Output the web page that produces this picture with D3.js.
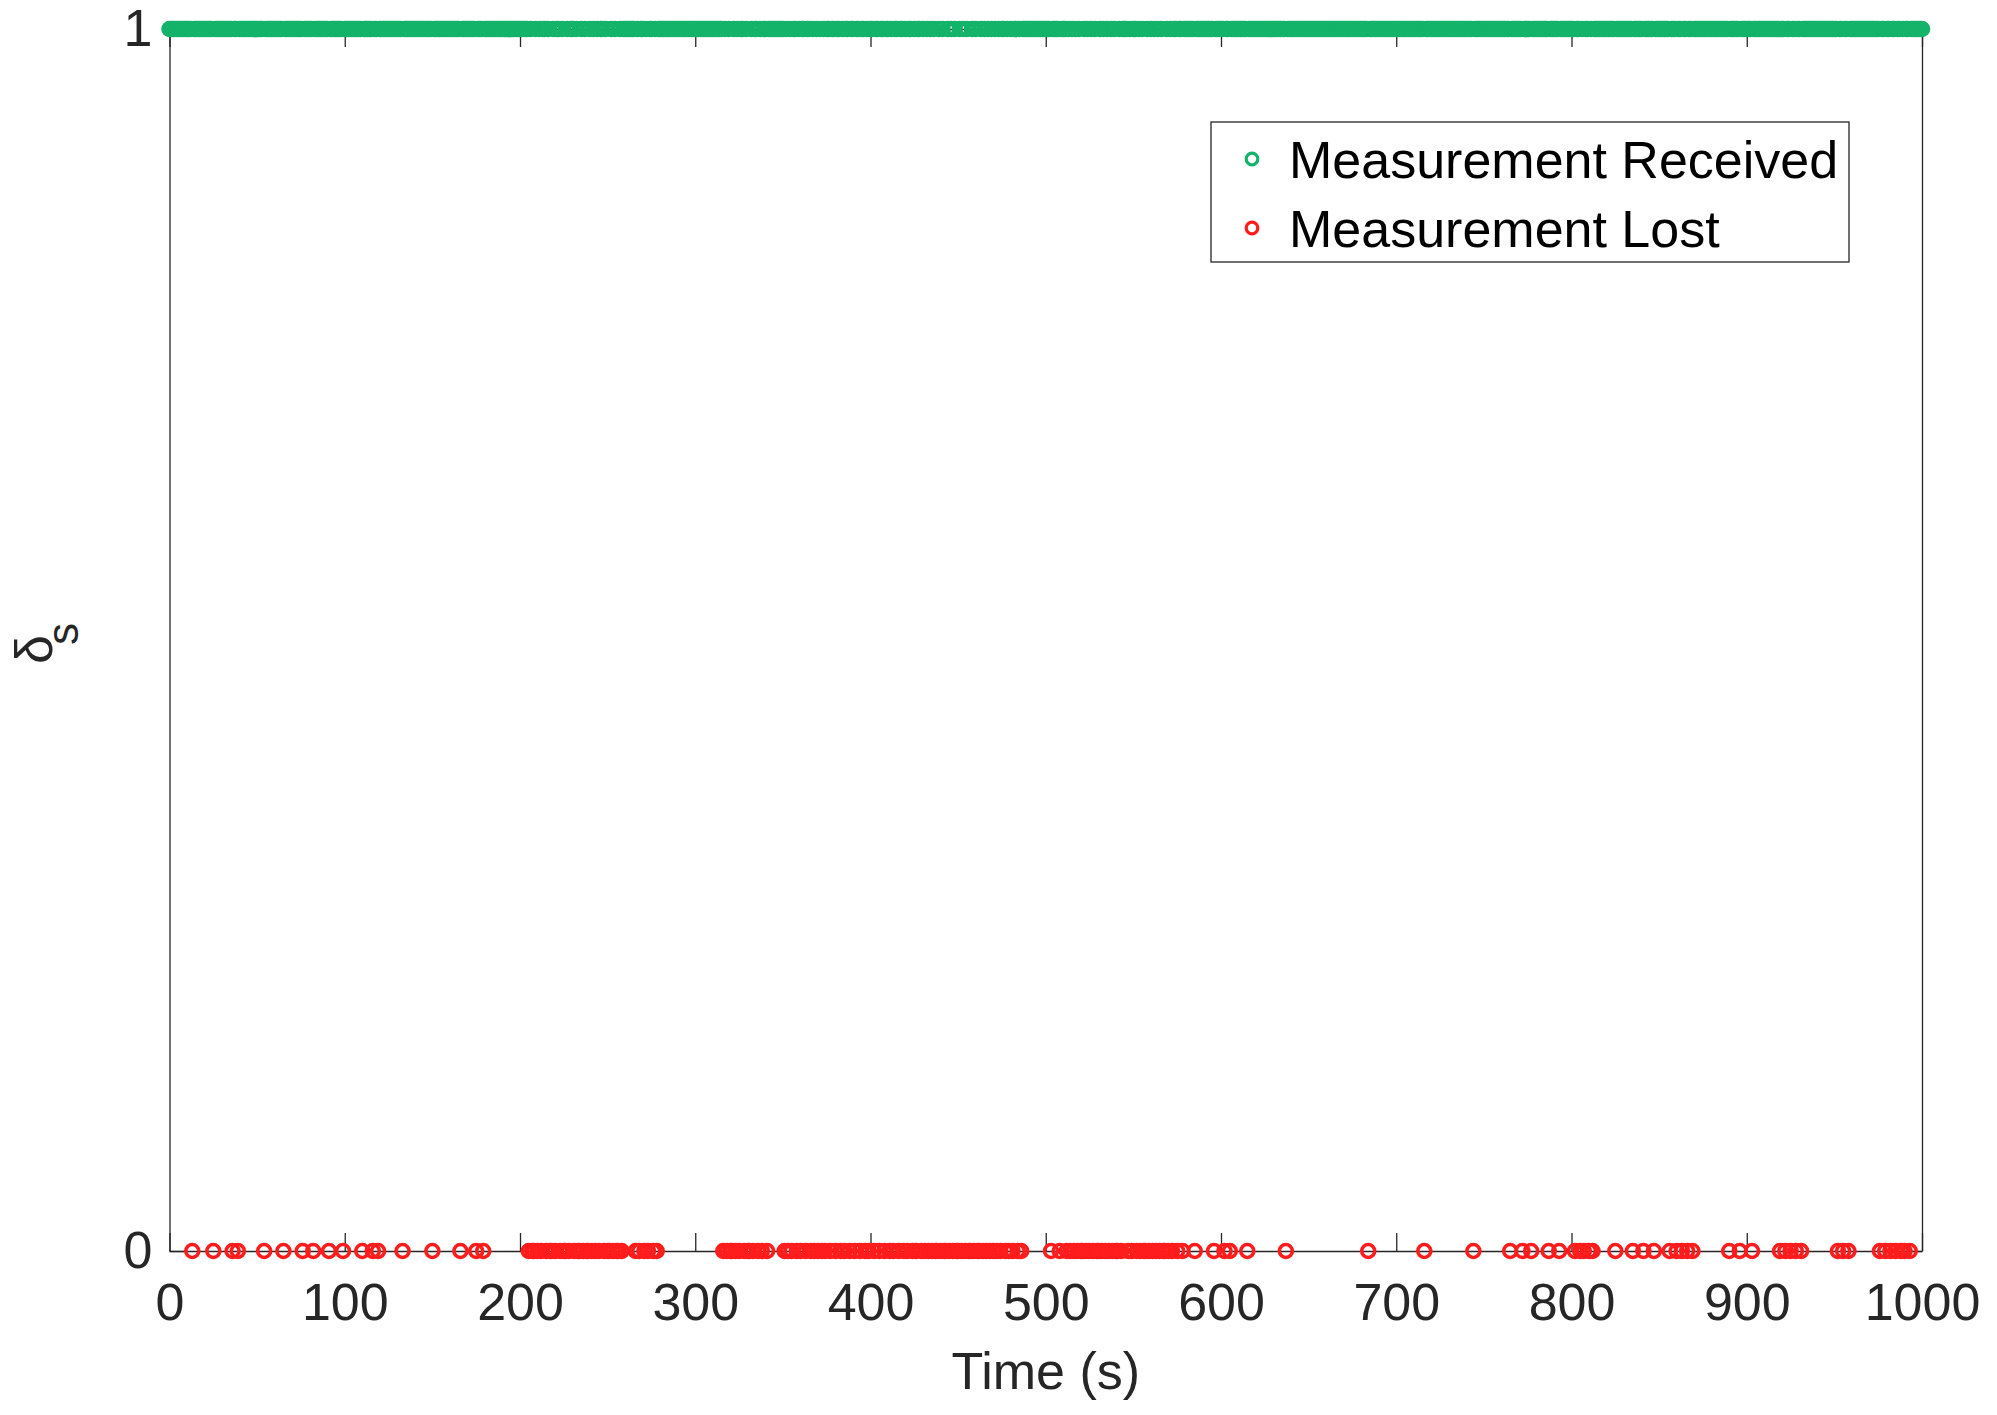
<!DOCTYPE html>
<html>
<head>
<meta charset="utf-8">
<script src="https://cdn.jsdelivr.net/npm/d3@7/dist/d3.min.js"></script>
<style>
  body { margin: 0; background: #fff; }
  text { font-family: "Liberation Sans", Arial, sans-serif; }
</style>
</head>
<body>
<div id="chart"></div>
<script>

// time axis: one sample per second, 0..1000 s
let timeDomain = [0, 1000];
let xTicks = [0, 100, 200, 300, 400, 500, 600, 700, 800, 900, 1000];
let yTicks = [0, 1];

let lostTimes = [13, 25, 36, 39, 54, 65, 76, 82, 91, 99, 110, 116, 119, 133, 150, 166, 175, 179,
  205, 207, 208, 210, 212, 215, 217, 218, 220, 223, 225, 226, 228, 231, 233, 234, 236, 238, 239, 241,
  243, 245, 248, 250, 251, 253, 255, 256, 258,
  266, 268, 271, 273, 276, 278,
  316, 318, 320, 321, 323, 325, 328, 330, 331, 333, 336, 338, 341,
  351, 353, 355, 358, 360, 363, 366, 368, 370, 372, 374, 377, 380, 383, 385, 388, 391, 394, 397, 399,
  402, 405, 408, 411, 413, 416, 419, 421, 424, 426, 429, 431, 433, 435, 437, 438, 440, 442, 443, 445,
  447, 449, 450, 452, 454, 456, 457, 459, 461, 462, 464, 466, 468, 470, 472, 474,
  477, 479, 481, 484, 486,
  503, 508, 512, 514, 516, 518, 520, 521, 523, 525, 527, 529, 530, 532, 534, 536, 538, 540, 541, 543,
  547, 549, 552, 554, 556, 557, 559, 561, 563, 565, 567, 568, 570, 572, 575, 578, 585, 596, 602, 605, 615,
  637, 684, 716, 744,
  765, 772, 777, 787, 793, 802, 805, 807, 810, 812, 825, 835, 841, 847, 856, 860, 863, 866, 869,
  890, 896, 903, 919, 922, 925, 928, 931, 952, 955, 958, 976, 979, 982, 985, 988, 990, 993];

let legendLabels = ['Measurement Received', 'Measurement Lost'];

let colors = {
  received: '#14b36a',
  lost: '#ff1c1c',
  axis: '#262626'
};

// every other sample was received
let lostSet = new Set(lostTimes);
let allTimes = d3.range(timeDomain[0], timeDomain[1] + 1);
let receivedTimes = allTimes.filter(t => !lostSet.has(t));

let width = 1997,
  height = 1415;

let plot = { left: 169.5, right: 1922, top: 29, bottom: 1251 };

let svg = d3.select('#chart').append('svg')
  .attr('width', width)
  .attr('height', height);

let x = d3.scaleLinear().domain(timeDomain).range([plot.left, plot.right]);
let y = d3.scaleLinear().domain([0, 1]).range([plot.bottom, plot.top]);

///////////////////////////////////////////////////////////////////////////
///////////////////////////////// Axes box ////////////////////////////////
///////////////////////////////////////////////////////////////////////////

function styleAxis(g) {
  g.selectAll('path, line').attr('stroke', colors.axis).attr('stroke-width', 1.3);
  g.selectAll('text').attr('fill', colors.axis).style('font-size', '52px');
}

let fmt = d3.format('d');

svg.append('g')
  .attr('transform', 'translate(0,' + plot.bottom + ')')
  .call(d3.axisBottom(x).tickValues(xTicks).tickFormat(fmt).tickSizeInner(-18).tickSizeOuter(0).tickPadding(32))
  .call(styleAxis);

svg.append('g')
  .attr('transform', 'translate(0,' + plot.top + ')')
  .call(d3.axisTop(x).tickValues(xTicks).tickSizeInner(-18).tickSizeOuter(0).tickFormat(''))
  .call(styleAxis);

svg.append('g')
  .attr('transform', 'translate(' + plot.left + ',0)')
  .call(d3.axisLeft(y).tickValues(yTicks).tickFormat(fmt).tickSizeInner(-18).tickSizeOuter(0).tickPadding(17))
  .call(styleAxis);

svg.append('g')
  .attr('transform', 'translate(' + plot.right + ',0)')
  .call(d3.axisRight(y).tickValues(yTicks).tickSizeInner(-18).tickSizeOuter(0).tickFormat(''))
  .call(styleAxis);

// axis labels
svg.append('text')
  .attr('x', (plot.left + plot.right) / 2)
  .attr('y', 1389)
  .attr('text-anchor', 'middle')
  .attr('fill', colors.axis)
  .style('font-size', '52px')
  .text('Time (s)');

let ylab = svg.append('g')
  .attr('transform', 'translate(52,664) rotate(-90)');
ylab.append('text')
  .attr('fill', colors.axis)
  .style('font-size', '52px')
  .text('δ');
ylab.append('text')
  .attr('x', 19)
  .attr('y', 26)
  .attr('fill', colors.axis)
  .style('font-size', '44px')
  .text('s');

///////////////////////////////////////////////////////////////////////////
///////////////////////////////// Markers /////////////////////////////////
///////////////////////////////////////////////////////////////////////////

let markerR = 6.5,
  markerW = 3.6;

svg.append('g')
  .selectAll('circle')
  .data(receivedTimes)
  .enter().append('circle')
  .attr('cx', d => x(d))
  .attr('cy', y(1))
  .attr('r', markerR)
  .attr('fill', 'none')
  .attr('stroke', colors.received)
  .attr('stroke-width', markerW);

svg.append('g')
  .selectAll('circle')
  .data(lostTimes)
  .enter().append('circle')
  .attr('cx', d => x(d))
  .attr('cy', y(0))
  .attr('r', markerR)
  .attr('fill', 'none')
  .attr('stroke', colors.lost)
  .attr('stroke-width', markerW);

///////////////////////////////////////////////////////////////////////////
///////////////////////////////// Legend //////////////////////////////////
///////////////////////////////////////////////////////////////////////////

let legend = svg.append('g');

legend.append('rect')
  .attr('x', 1211)
  .attr('y', 122)
  .attr('width', 638)
  .attr('height', 140)
  .attr('fill', '#fff')
  .attr('stroke', colors.axis)
  .attr('stroke-width', 1.3);

let legendColors = [colors.received, colors.lost];

legend.selectAll('.item')
  .data(legendLabels)
  .enter().append('g')
  .attr('class', 'item')
  .attr('transform', (d, i) => 'translate(0,' + (159 + i * 69) + ')')
  .each(function (d, i) {
    let g = d3.select(this);
    g.append('circle')
      .attr('cx', 1252)
      .attr('cy', 0)
      .attr('r', 5.8)
      .attr('fill', 'none')
      .attr('stroke', legendColors[i])
      .attr('stroke-width', 3.2);
    g.append('text')
      .attr('x', 1289)
      .attr('y', 19)
      .attr('fill', '#000')
      .style('font-size', '52px')
      .text(d);
  });

</script>
</body>
</html>
